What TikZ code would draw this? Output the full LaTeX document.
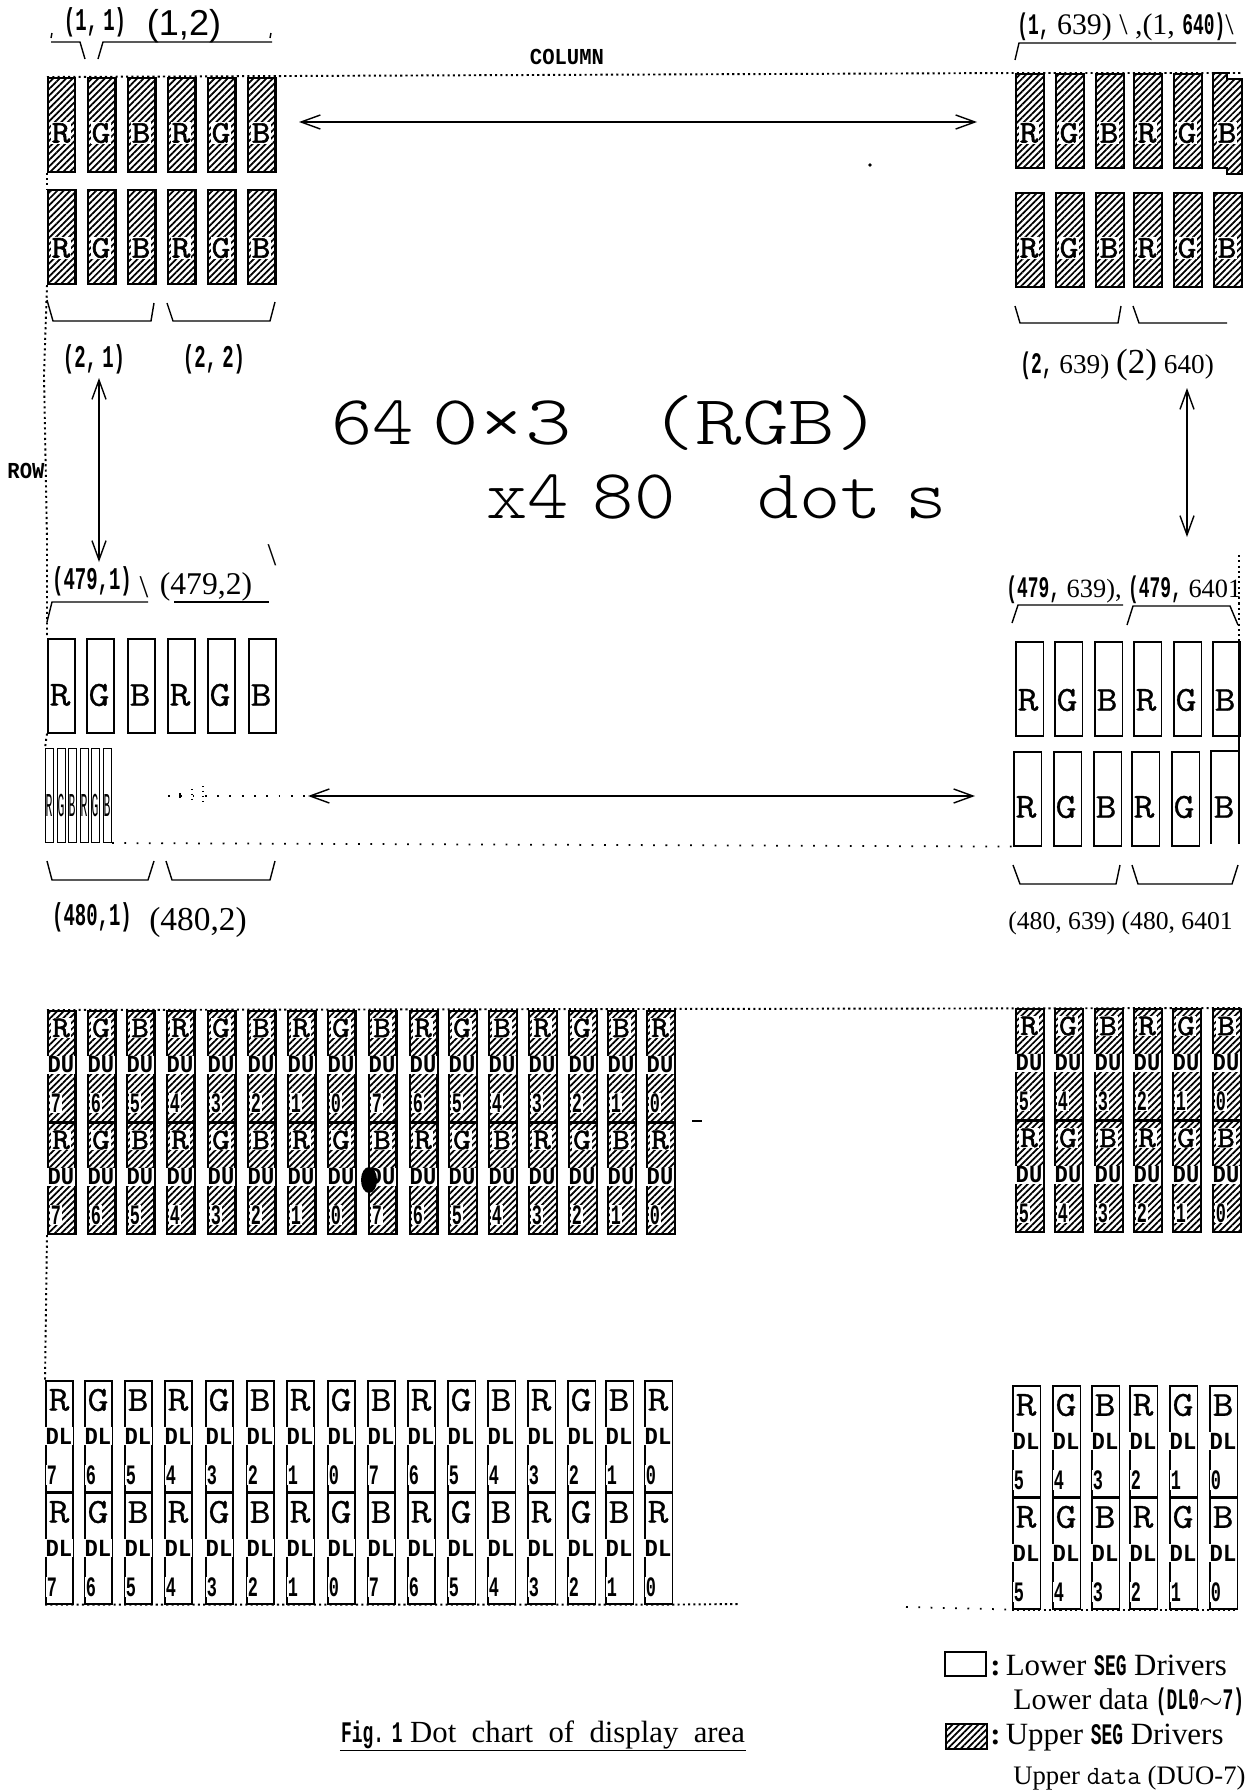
\documentclass[tikz,border=0pt]{standalone}
\usepackage{fontspec}
\usetikzlibrary{arrows.meta,patterns.meta}
\setmainfont{Liberation Serif}
\newfontfamily\dotfont[FakeStretch=0.6]{Liberation Mono Bold}
\newfontfamily\tagfont[FakeStretch=0.9]{Liberation Mono Bold}
\newfontfamily\slimfont[FakeStretch=0.34]{Liberation Mono}
\newfontfamily\cellfont[FakeStretch=1.15,FakeBold=0.8]{Latin Modern Mono}
\newfontfamily\upfont[FakeStretch=1.15,FakeBold=1.8]{Latin Modern Mono}
\newfontfamily\bigfont[FakeStretch=1.12]{Latin Modern Mono Light}
\newfontfamily\bigwide[FakeStretch=1.26]{Latin Modern Mono Light}
\newfontfamily\capfont{Liberation Sans}
\newcommand{\bd}[1]{{\dotfont\fontsize{17}{17}\selectfont #1}}
\tikzset{
    lowcell/.style={draw,line width=0.9pt,anchor=north west,minimum width=0.55cm,minimum height=1.88cm,inner sep=0pt},
    upcell/.style={lowcell,line width=1.2pt,pattern={Lines[angle=45,distance=2.6pt,line width=1pt]}},
    datacell/.style={minimum height=2.22cm},
    slimcell/.style={lowcell,line width=0.6pt,minimum width=0.16cm},
    lowtxt/.style={inner sep=0pt,font=\cellfont\fontsize{20}{20}\selectfont},
    uptxt/.style={inner sep=0.5pt,fill=white,font=\upfont\fontsize{18}{18}\selectfont},
    tagtxt/.style={inner sep=0.5pt,font=\tagfont\fontsize{14}{14}\selectfont},
    numtxt/.style={inner sep=0.5pt,font=\dotfont\fontsize{16}{16}\selectfont},
    uptag/.style={tagtxt,fill=white},
    upnum/.style={numtxt,fill=white},
    brlabel/.style={inner sep=0pt,font=\fontsize{15}{15}\selectfont},
    dotlabel/.style={inner sep=0pt,font=\dotfont\fontsize{18}{18}\selectfont},
    legendtxt/.style={inner sep=0pt,anchor=west,font=\fontsize{17.6}{17.6}\selectfont},
    bracket/.style={line width=0.8pt},
    fine/.style={line width=1.1pt,dash pattern=on 1.2pt off 1.8pt},
    sparse/.style={line width=1pt,dash pattern=on 1pt off 6pt},
    span/.style={line width=0.8pt,{Straight Barb[length=11pt,width=8pt]}-{Straight Barb[length=11pt,width=8pt]}},
}
\begin{document}
\begin{tikzpicture}[x=0.02cm,y=-0.02cm]
    \useasboundingbox (0,0) rectangle (1250,1792);

    % top left dots
    \foreach \x/\c [count=\n] in {47/R,87/G,127/B,167/R,207/G,247/B} {
        \node[upcell] (ua\n) at (\x,77) {};
        \node[uptxt] (uat\n) at (\x+14,133) {\c};
        \node[upcell] (ub\n) at (\x,189) {};
        \node[uptxt] (ubt\n) at (\x+14,248) {\c};
    }
    % top right dots
    \foreach \x/\c [count=\n] in {1015/R,1055/G,1095/B,1133/R,1173/G} {
        \node[upcell] (uc\n) at (\x,73) {};
        \node[uptxt] (uct\n) at (\x+14,133) {\c};
    }
    \draw[line width=1.2pt,pattern={Lines[angle=45,distance=2.6pt,line width=1pt]}] (1213,73) -- (1227,73) -- (1227,79) -- (1242,79) -- (1242,174) -- (1227,174) -- (1227,168) -- (1213,168) -- cycle;
    \node[uptxt] (uct6) at (1227,133) {B};
    \foreach \x/\c [count=\n] in {1015/R,1055/G,1095/B,1133/R,1173/G,1213/B} {
        \node[upcell] (ud\n) at (\x,192) {};
        \node[uptxt] (udt\n) at (\x+14,248) {\c};
    }

    % lower left dots
    \foreach \x/\c [count=\n] in {47/R,86/G,127/B,167/R,207/G,248/B} {
        \node[lowcell] (la\n) at (\x,638) {};
        \node[lowtxt] (lat\n) at (\x+13,695) {\c};
    }
    \foreach \x/\c [count=\n] in {45/R,57/G,68/B,80/R,91/G,103/B} {
        \node[slimcell] (lb\n) at (\x,748) {};
        \node[inner sep=0pt,font=\slimfont\fontsize{19}{19}\selectfont] (lbt\n) at (\x+4,805) {\c};
    }
    % lower right dots
    \foreach \x/\c [count=\n] in {1015/R,1054/G,1094/B,1133/R,1173/G,1212/B} {
        \node[lowcell] (lc\n) at (\x,641) {};
        \node[lowtxt] (lct\n) at (\x+13,700) {\c};
    }
    \foreach \x/\c [count=\n] in {1013/R,1053/G,1093/B,1131/R,1171/G} {
        \node[lowcell] (ld\n) at (\x,751) {};
        \node[lowtxt] (ldt\n) at (\x+13,807) {\c};
    }
    \coordinate (ldtl) at (1238,751);
    \coordinate (ldbl) at (1211,844);
    \draw[line width=0.9pt] (ldtl) -| (1211,751) -- (ldbl);
    \node[lowtxt] (ldt6) at (1224,807) {B};
    \draw[line width=1.4pt] (1239,640) -- (1239,844);

    % upper data columns
    \foreach \x/\c/\d [count=\n] in {47/R/7,87/G/6,126/B/5,166/R/4,207/G/3,247/B/2,287/R/1,327/G/0,368/B/7,409/R/6,448/G/5,488/B/4,528/R/3,568/G/2,607/B/1,646/R/0} {
        \foreach \y/\r in {1010/a,1122/b} {
            \node[upcell,datacell] (du\r\n) at (\x,\y) {};
            \node[uptxt,font=\upfont\fontsize{17}{17}\selectfont] (du\r t\n) at (\x+14,\y+18) {\c};
            \node[uptag] (du\r g\n) at (\x+14,\y+55) {DU};
            \node[upnum] (du\r n\n) at (\x+9,\y+93) {\d};
        }
    }
    \foreach \x/\c/\d [count=\n] in {1015/R/5,1054/G/4,1094/B/3,1133/R/2,1172/G/1,1212/B/0} {
        \foreach \y/\r in {1008/c,1120/d} {
            \node[upcell,datacell] (du\r\n) at (\x,\y) {};
            \node[uptxt,font=\upfont\fontsize{17}{17}\selectfont] (du\r t\n) at (\x+14,\y+18) {\c};
            \node[uptag] (du\r g\n) at (\x+14,\y+55) {DU};
            \node[upnum] (du\r n\n) at (\x+9,\y+93) {\d};
        }
    }

    % lower data columns
    \foreach \x/\c/\d [count=\n] in {45/R/7,84/G/6,124/B/5,164/R/4,205/G/3,246/B/2,286/R/1,327/G/0,367/B/7,407/R/6,447/G/5,487/B/4,527/R/3,567/G/2,605/B/1,644/R/0} {
        \foreach \y/\r in {1380/a,1492/b} {
            \node[lowcell,datacell] (dl\r\n) at (\x,\y) {};
            \node[lowtxt] (dl\r t\n) at (\x+14,\y+20) {\c};
            \node[tagtxt,fill=white] (dl\r g\n) at (\x+14,\y+56) {DL};
            \node[numtxt,fill=white] (dl\r n\n) at (\x+7,\y+95) {\d};
        }
    }
    \foreach \x/\c/\d [count=\n] in {1012/R/5,1052/G/4,1091/B/3,1129/R/2,1169/G/1,1209/B/0} {
        \foreach \y/\r in {1385/c,1497/d} {
            \node[lowcell,datacell] (dl\r\n) at (\x,\y) {};
            \node[lowtxt] (dl\r t\n) at (\x+14,\y+20) {\c};
            \node[tagtxt,fill=white] (dl\r g\n) at (\x+14,\y+56) {DL};
            \node[numtxt,fill=white] (dl\r n\n) at (\x+7,\y+95) {\d};
        }
    }

    % dotted frame
    \draw[fine] (ua1.north west) -- (uc1.north west) -- (1241,73);
    \draw[fine] (ua1.south west) -- (ub1.north west);
    \draw[fine] (ub1.south west) -- (44,375) -- (47,540) -- (la1.north west);
    \draw[fine] (la1.south west) -- (lb1.north west);
    \draw[sparse] (lb6.south east) -- (ld1.south west);
    \draw[fine] (1239,555) -- (1239,640);
    \draw[fine] (dua1.north west) -- (duc6.north east);
    \draw[fine] (dub1.south west) -- (dla1.north west);
    \draw[fine] (dlb1.south west) -- (dlb16.south east) -- (739,1604);
    \draw[sparse] (906,1607) -- (dld1.south west);
    \draw[fine] (dld1.south west) -- (dld6.south east);
    \coordinate (rowl) at (168,796);
    \coordinate (rowm) at (308,796);
    \draw[sparse] (rowl) -- (rowm);
    \draw[line width=0.8pt] (180,793) -- (180,798);
    \draw[line width=0.8pt,dotted] (192,789) -- (192,802);
    \draw[line width=0.8pt,dotted] (203,786) -- (203,803);

    % arrows
    \coordinate (colL) at (299,122);
    \coordinate (colR) at (977,122);
    \coordinate (rowR) at (975,796);
    \coordinate (vaT) at (99,378);
    \coordinate (vaB) at (99,562);
    \coordinate (vbT) at (1187,388);
    \coordinate (vbB) at (1187,537);
    \draw[span] (colL) -- (colR);
    \draw[span] (rowm) -- (rowR);
    \draw[span] (vaT) -- (vaB);
    \draw[span] (vbT) -- (vbB);

    % brackets
    \draw[bracket] (51,42) -- (80,42) -- (85,59);
    \draw[bracket] (98,59) -- (103,42) -- (272,42);
    \draw[bracket] (52,33) -- (51,38);
    \draw[bracket] (271,33) -- (270,38);
    \draw[bracket] (47,300) -- (53,321) -- (151,321) -- (154,303);
    \draw[bracket] (167,303) -- (173,321) -- (270,321) -- (275,302);
    \draw[bracket] (1015,60) -- (1019,43) -- (1236,43);
    \draw[bracket] (1015,306) -- (1020,323) -- (1118,323) -- (1121,306);
    \draw[bracket] (1133,306) -- (1139,323) -- (1227,323);
    \draw[bracket] (47,622) -- (52,602) -- (148,602);
    \draw[bracket] (174,602) -- (269,602);
    \draw[bracket] (47,861) -- (52,880) -- (148,880) -- (154,861);
    \draw[bracket] (166,861) -- (172,880) -- (270,880) -- (275,861);
    \draw[bracket] (1012,623) -- (1018,605) -- (1123,605);
    \draw[bracket] (1127,625) -- (1133,606) -- (1230,606) -- (1238,625);
    \draw[bracket] (1013,865) -- (1020,884) -- (1116,884) -- (1120,865);
    \draw[bracket] (1132,865) -- (1138,884) -- (1232,884) -- (1238,865);

    % labels
    \node[dotlabel] (p11) at (95,22) {(1,\,1)};
    \node[inner sep=0pt,font=\capfont\fontsize{20.5}{20.5}\selectfont] (p12) at (184,26) {(1,2)};
    \node[inner sep=0pt,font=\tagfont\fontsize{13}{13}\selectfont] (colname) at (567,57) {COLUMN};
    \node[inner sep=0pt,font=\tagfont\fontsize{13}{13}\selectfont] (rowname) at (26,471) {ROW};
    \node[brlabel,anchor=west,font=\fontsize{17}{17}\selectfont] (p1r) at (1017,27) {\bd{(1,} 639) \textbackslash\ ,(1, \bd{640)}\textbackslash};
    \node[dotlabel] (p21) at (94,359) {(2,\,1)};
    \node[dotlabel] (p22) at (214,359) {(2,\,2)};
    \node[brlabel,anchor=west,font=\fontsize{15.5}{15.5}\selectfont] (p2r) at (1020,365) {\bd{(2,} 639) {\fontsize{20}{20}\selectfont (2)} 640)};
    \node[inner sep=0pt,anchor=west,font=\bigfont\fontsize{40}{40}\selectfont] (bigA) at (331,423) {64\kern-13pt\ {\bigwide 0×3}\ \ \kern-3pt{\bigwide (RGB)}};
    \node[inner sep=0pt,anchor=west,font=\bigfont\fontsize{40}{40}\selectfont] (bigB) at (486,497) {x4\kern-10pt\ 80\ \ dot\kern-10pt\ s};
    \node[dotlabel] (p4791) at (92,581) {(479,1)};
    \node[inner sep=0pt,font=\fontsize{18}{18}\selectfont] (p4792) at (206,587) {(479,2)};
    \node[inner sep=0pt,font=\fontsize{18}{18}\selectfont] (slashA) at (144,587) {\textbackslash};
    \node[inner sep=0pt,font=\fontsize{18}{18}\selectfont] (slashB) at (272,555) {\textbackslash};
    \node[brlabel,anchor=west] (p479r) at (1006,590) {\bd{(479,} 639), \bd{(479,} 6401};
    \node[dotlabel] (p4801) at (92,917) {(480,1)};
    \node[inner sep=0pt,font=\fontsize{19}{19}\selectfont] (p4802) at (198,922) {(480,2)};
    \node[brlabel,anchor=west,font=\fontsize{14.6}{14.6}\selectfont] (p480r) at (1008,923) {(480, 639) (480, 6401};

    % caption and legend
    \node[inner sep=0.5pt,font=\fontsize{17.5}{17.5}\selectfont] (figcap) at (543,1735) {\bd{Fig.}\ \bd{1} Dot\ \ chart\ \ of\ \ display\ \ area};
    \draw[line width=0.8pt] (figcap.south west) -- (figcap.south east);
    \node[draw,line width=1pt,anchor=north west,minimum width=0.82cm,minimum height=0.48cm,inner sep=0pt] (lglow) at (944,1651) {};
    \node[draw,line width=1pt,anchor=north west,minimum width=0.82cm,minimum height=0.5cm,inner sep=0pt,pattern={Lines[angle=45,distance=2.6pt,line width=1pt]}] (lgup) at (945,1723) {};
    \node[legendtxt] (lgt1) at (990,1665) {\textbf{:}\,Lower \bd{SEG} Drivers};
    \node[legendtxt,font=\fontsize{17}{17}\selectfont] (lgt2) at (1013,1702) {Lower data \bd{(DL0$\sim$7)}};
    \node[legendtxt] (lgt3) at (990,1738) {\textbf{:}\,Upper \bd{SEG} Drivers};
    \node[legendtxt,font=\fontsize{15.2}{15.2}\selectfont] (lgt4) at (1013,1778) {Upper {\ttfamily\fontsize{15}{15}\selectfont data} (DUO-7)};

    % specks
    \fill (870,165) circle (1.8);
    \fill (692,1120) rectangle (702,1122);
    \fill (369,1180) ellipse (8 and 13);
\end{tikzpicture}
\end{document}
